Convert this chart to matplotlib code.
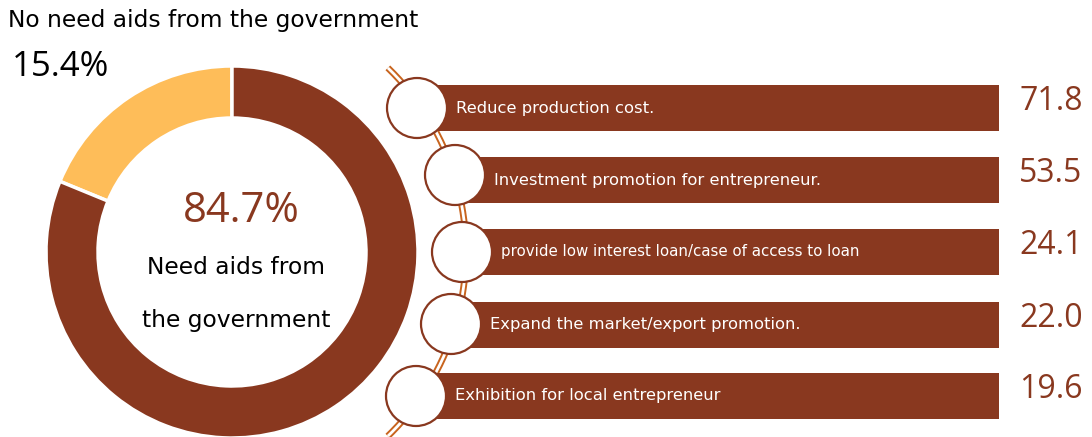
import numpy as np
import matplotlib.pyplot as plt
from matplotlib.patches import Circle

W, H = 1092, 437
brown = '#89381F'
yellow = '#FEBD59'
orange = '#C8641E'

# donut labels and the share of the ring as drawn in the picture
label_values = [15.4, 84.7]
ring_share = [18.8, 81.2]

# bars: all drawn the same length, the numbers are labels
categories = ['Reduce production cost.',
              'Investment promotion for entrepreneur.',
              'provide low interest loan/case of access to loan',
              'Expand the market/export promotion.',
              'Exhibition for local entrepreneur']
values = [71.8, 53.5, 24.1, 22.0, 19.6]

# layout in pixels (y from top)
bar_y = np.array([108, 180, 251.5, 324.5, 395.5])
circ_x = np.array([417, 455, 462, 451, 416])
circ_y = np.array([108, 175, 252, 324, 396])
bar_right = 999

words = ['DejaVu Sans']
nums = ['Open Sans', 'DejaVu Sans']

fig = plt.figure(figsize=(W / 100, H / 100), dpi=100)
ax = fig.add_axes([0, 0, 1, 1])

# donut
ax.pie(ring_share, colors=[yellow, brown], center=(232, H - 252), radius=186,
       startangle=90, counterclock=True,
       wedgeprops=dict(width=52, edgecolor='white', linewidth=2.5))

# chain arc behind the circles
cx, cy, R = 210, H - 252, 256
t = np.linspace(np.radians(46), np.radians(-46), 200)
ax.plot(cx + R * np.cos(t), cy + R * np.sin(t), color=orange, lw=4.8,
        solid_capstyle='butt', zorder=1)
ax.plot(cx + R * np.cos(t), cy + R * np.sin(t), color='white', lw=2.0,
        solid_capstyle='butt', zorder=1.1)

# bars
ax.barh(H - bar_y, bar_right - circ_x, left=circ_x, height=46, color=brown, zorder=2)

for i in range(len(categories)):
    ax.add_patch(Circle((circ_x[i], H - circ_y[i]), 30, facecolor='white',
                        edgecolor=brown, lw=1.6, zorder=3))
    fs = 10.8 if i == 2 else 11.8
    ax.text(circ_x[i] + 39, H - bar_y[i], categories[i], color='white', fontsize=fs,
            family=words, va='center', ha='left', zorder=4)
    ax.text(1051, H - bar_y[i] + 6, f'{values[i]:.1f}', color=brown, fontsize=23,
            family=nums, va='center', ha='center', zorder=4)

# donut texts
ax.text(8, H - 21, 'No need aids from the government', fontsize=16.8, color='black',
        family=words, va='center', ha='left')
ax.text(12, H - 67, f'{label_values[0]}%', fontsize=25, color='black', family=nums,
        va='center', ha='left')
ax.text(241, H - 211, f'{label_values[1]}%', fontsize=30, color=brown, family=nums,
        va='center', ha='center')
ax.text(236, H - 267, 'Need aids from', fontsize=16.8, color='black', family=words,
        va='center', ha='center')
ax.text(236, H - 320, 'the government', fontsize=16.8, color='black', family=words,
        va='center', ha='center')

ax.set_xlim(0, W)
ax.set_ylim(0, H)
ax.set_aspect('equal')
ax.axis('off')

fig.savefig('out.png', dpi=100)
